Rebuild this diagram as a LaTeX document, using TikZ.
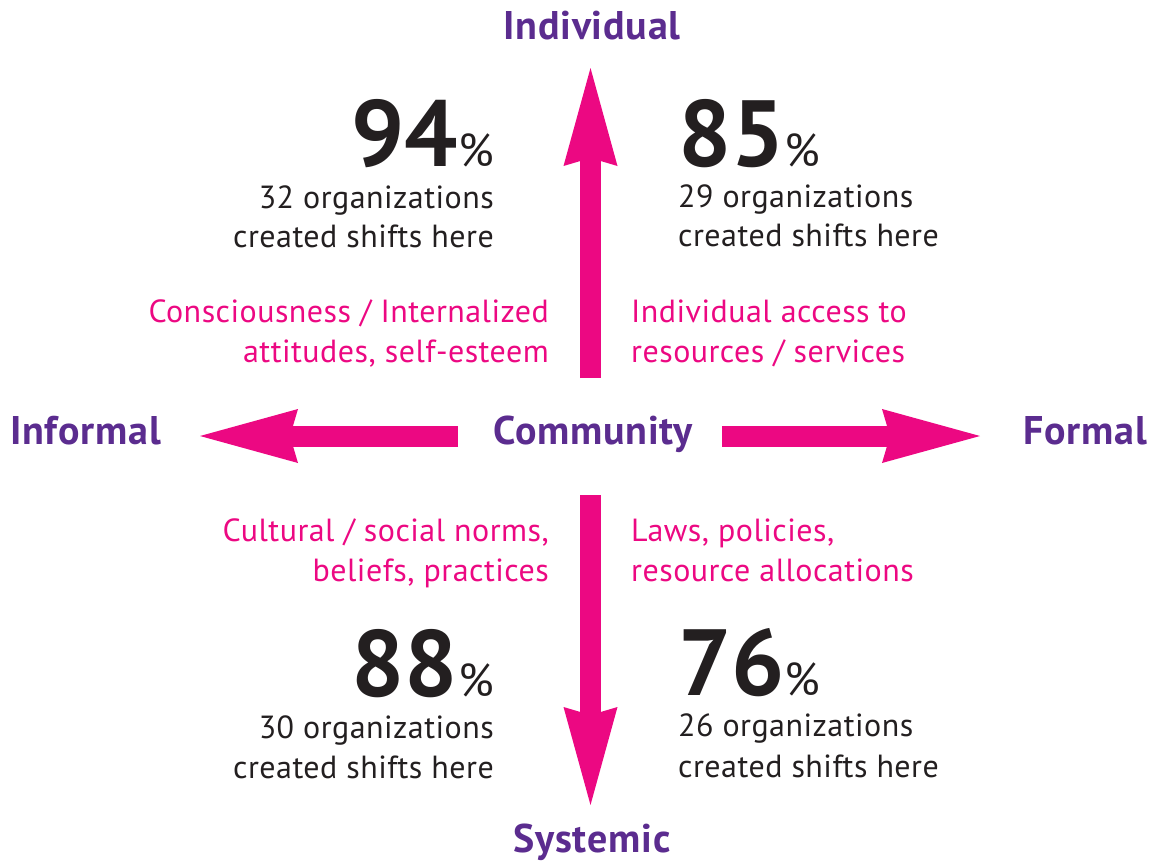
\documentclass[tikz,border=0pt]{standalone}
\usepackage{fontspec}
\setmainfont{PT Sans}
\usetikzlibrary{arrows.meta}
\definecolor{pinkc}{HTML}{EC0882}
\definecolor{purplec}{HTML}{5B2C8F}
\definecolor{darkc}{HTML}{231F20}
\newcommand{\pctmark}{{\fontsize{46}{46}\selectfont\mdseries\%}}
\begin{document}
\begin{tikzpicture}[x=1pt,y=-1pt,
  axislabel/.style={font=\fontsize{40}{42}\selectfont\bfseries\addfontfeatures{LetterSpace=2}, text=purplec, inner sep=0pt},
  factor/.style={font=\fontsize{32}{40}\selectfont\addfontfeatures{LetterSpace=1.5}, text=pinkc, inner sep=0pt, text height=23pt, text depth=6pt},
  stat/.style={font=\fontsize{32}{40}\selectfont\addfontfeatures{LetterSpace=1.5}, text=darkc, inner sep=0pt, text height=23pt, text depth=6pt},
  bignum/.style={font=\fontsize{94}{94}\selectfont\bfseries, text=darkc, inner sep=0pt, text height=66pt, text depth=0pt},
  bigarrow/.style={draw=pinkc, line width=21pt,
    -{Stealth[length=98pt,width=54pt,inset=8pt,line width=0pt,fill=pinkc]}}
]
\useasboundingbox (0,0) rectangle (1154,865);

% axis labels
\node[axislabel, anchor=base] (ind) at (592,39) {Individual};
\node[axislabel, anchor=base] (sys) at (592,852) {Systemic};
\node[axislabel, anchor=base west] (inf) at (10,444) {Informal};
\node[axislabel, anchor=base east] (for) at (1147,444) {Formal};
\node[axislabel, anchor=base] (com) at (593,444) {Community};

% arrows
\coordinate (upS) at (590.5,378);  \coordinate (upT) at (590.5,68);
\coordinate (dnS) at (590.5,495);  \coordinate (dnT) at (590.5,805);
\coordinate (lfS) at (458,436);    \coordinate (lfT) at (200,436);
\coordinate (rtS) at (722,436);    \coordinate (rtT) at (980,436);
\draw[bigarrow] (upS) -- (upT);
\draw[bigarrow] (dnS) -- (dnT);
\draw[bigarrow] (lfS) -- (lfT);
\draw[bigarrow] (rtS) -- (rtT);

% factor texts
\node[factor, anchor=base east] (f1a) at (549,322) {Consciousness / Internalized};
\node[factor, anchor=base east] (f1b) at (549,362) {attitudes, self-esteem};
\node[factor, anchor=base west] (f2a) at (631,322) {Individual access to};
\node[factor, anchor=base west] (f2b) at (631,362) {resources / services};
\node[factor, anchor=base east] (f3a) at (549,541) {Cultural / social norms,};
\node[factor, anchor=base east] (f3b) at (549,581) {beliefs, practices};
\node[factor, anchor=base west] (f4a) at (631,541) {Laws, policies,};
\node[factor, anchor=base west] (f4b) at (631,581) {resource allocations};

% statistics
\node[bignum, anchor=base east] (n1) at (494,166) {94\pctmark};
\node[stat, anchor=base east] (s1a) at (494,208) {32 organizations};
\node[stat, anchor=base east] (s1b) at (494,247) {created shifts here};

\node[bignum, anchor=base west] (n2) at (678,166) {85\pctmark};
\node[stat, anchor=base west] (s2a) at (678,207) {29 organizations};
\node[stat, anchor=base west] (s2b) at (678,246) {created shifts here};

\node[bignum, anchor=base east] (n3) at (494,696) {88\pctmark};
\node[stat, anchor=base east] (s3a) at (494,738) {30 organizations};
\node[stat, anchor=base east] (s3b) at (494,778) {created shifts here};

\node[bignum, anchor=base west] (n4) at (678,695) {76\pctmark};
\node[stat, anchor=base west] (s4a) at (678,736) {26 organizations};
\node[stat, anchor=base west] (s4b) at (678,777) {created shifts here};
\end{tikzpicture}
\end{document}
